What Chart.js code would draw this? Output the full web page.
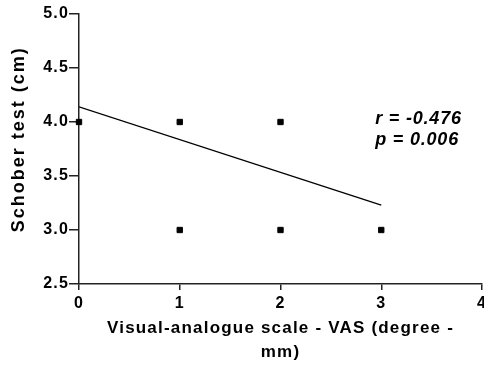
<!DOCTYPE html>
<html>
<head>
<meta charset="utf-8">
<script src="https://cdn.jsdelivr.net/npm/chart.js@4"></script>
<style>
    body { margin: 0; background: #fff; }
</style>
</head>
<body>
<canvas id="chart" width="484" height="370"></canvas>
<script>
// data
const vasValues = [0, 1, 2, 1, 2, 3];
const schoberValues = [4, 4, 4, 3, 3, 3];
const fitX = [0, 3];
const fitY = [4.14, 3.23];
const statLines = ['r = -0.476', 'p = 0.006'];
const yTitle = 'Schober test (cm)';
const xTicks = [0, 1, 2, 3, 4];
const yTicks = [2.5, 3.0, 3.5, 4.0, 4.5, 5.0];

const axisColor = '#222';
const fontFamily = '"Liberation Sans", Arial, sans-serif';

// the original figure uses slightly spaced-out lettering
const spacing = {
    id: 'spacing',
    beforeLayout(chart) { chart.ctx.letterSpacing = '1.2px'; },
    beforeDraw(chart) { chart.ctx.letterSpacing = '1.2px'; }
};

// y title sits a bit above the plot centre in the original, so draw it by hand
const extraText = {
    id: 'extraText',
    afterDatasetsDraw(chart) {
        const { ctx, scales: { x, y } } = chart;
        ctx.save();
        ctx.fillStyle = '#000';

        ctx.letterSpacing = '0.8px';
        ctx.font = 'italic bold 18px ' + fontFamily;
        ctx.textBaseline = 'alphabetic';
        ctx.textAlign = 'left';
        const left = x.getPixelForValue(2.94);
        ctx.fillText(statLines[0], left, y.getPixelForValue(3.98));
        ctx.fillText(statLines[1], left, y.getPixelForValue(3.785));

        ctx.letterSpacing = '2px';
        ctx.font = 'bold 18px ' + fontFamily;
        ctx.textBaseline = 'middle';
        ctx.textAlign = 'center';
        ctx.translate(19, y.getPixelForValue(3.84));
        ctx.rotate(-Math.PI / 2);
        ctx.fillText(yTitle, 0, 0);
        ctx.restore();
    }
};

const points = vasValues.map((v, i) => ({ x: v, y: schoberValues[i] }));
const fitLine = fitX.map((v, i) => ({ x: v, y: fitY[i] }));

new Chart(document.getElementById('chart'), {
    type: 'scatter',
    data: {
        datasets: [
            {
                data: points,
                pointStyle: 'rect',
                pointRadius: 3.8,
                pointBorderWidth: 1,
                backgroundColor: '#000',
                borderColor: '#000',
                clip: false
            },
            {
                type: 'line',
                data: fitLine,
                borderColor: '#000',
                borderWidth: 1.3,
                pointRadius: 0,
                fill: false
            }
        ]
    },
    options: {
        responsive: false,
        animation: false,
        events: [],
        layout: {
            autoPadding: false,
            padding: { top: 14, right: 2, left: 0, bottom: 0 }
        },
        plugins: {
            legend: { display: false },
            tooltip: { enabled: false }
        },
        scales: {
            x: {
                type: 'linear',
                min: 0,
                max: 4,
                afterBuildTicks: (scale) => { scale.ticks = xTicks.map(v => ({ value: v })); },
                afterFit: (scale) => {
                    scale.height = 86;
                    scale.paddingLeft = 0;
                    scale.paddingRight = 0;
                },
                border: { display: true, color: axisColor, width: 1.5 },
                grid: {
                    drawOnChartArea: false,
                    drawTicks: true,
                    tickLength: 6,
                    color: axisColor,
                    lineWidth: 1.5
                },
                ticks: {
                    color: '#000',
                    padding: 4,
                    maxRotation: 0,
                    font: { family: fontFamily, size: 16, weight: 'bold' }
                },
                title: {
                    display: true,
                    text: ['Visual-analogue scale - VAS (degree -', 'mm)'],
                    color: '#000',
                    padding: { top: 0, bottom: 6 },
                    font: { family: fontFamily, size: 17, weight: 'bold', lineHeight: 24 / 17 }
                }
            },
            y: {
                type: 'linear',
                min: 2.5,
                max: 5,
                afterBuildTicks: (scale) => { scale.ticks = yTicks.map(v => ({ value: v })); },
                afterFit: (scale) => {
                    scale.width = 79;
                    scale.paddingTop = 0;
                    scale.paddingBottom = 0;
                },
                border: { display: true, color: axisColor, width: 1.5 },
                grid: {
                    drawOnChartArea: false,
                    drawTicks: true,
                    tickLength: 10,
                    color: axisColor,
                    lineWidth: 1.5
                },
                ticks: {
                    color: '#000',
                    padding: 0,
                    callback: (v) => Number(v).toFixed(1),
                    font: { family: fontFamily, size: 16, weight: 'bold' }
                },
                title: { display: false }
            }
        }
    },
    plugins: [spacing, extraText]
});
</script>
</body>
</html>
